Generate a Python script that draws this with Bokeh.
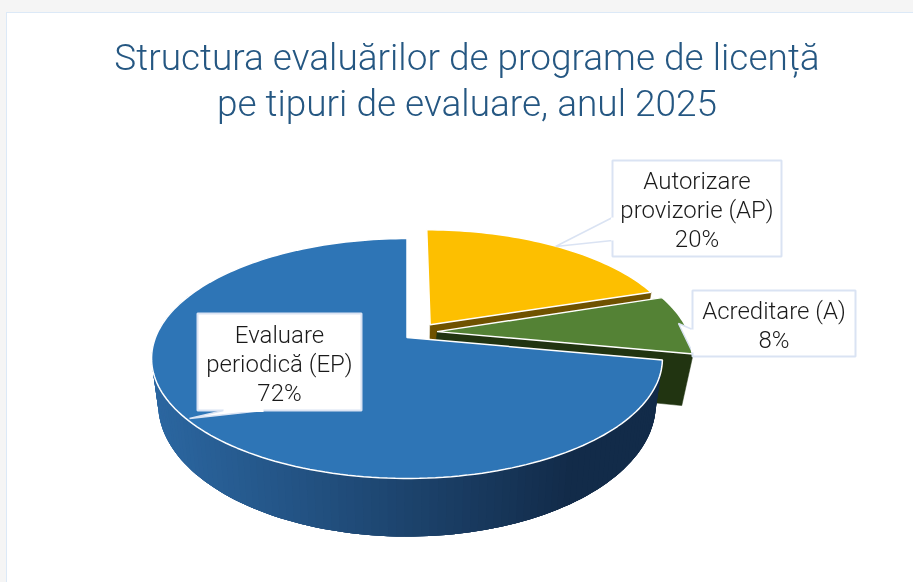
import math
from bokeh.plotting import figure
from bokeh.models import Range1d, ColumnDataSource
from bokeh.core.properties import value
from bokeh.embed import file_html
from bokeh.resources import INLINE

# ---- data (clockwise from 12 o'clock)
categories = ["Autorizare provizorie (AP)", "Acreditare (A)", "Evaluare periodică (EP)"]
label_lines = [["Autorizare", "provizorie (AP)"], ["Acreditare (A)"], ["Evaluare", "periodică (EP)"]]
shares = [20, 8, 72]
top_colors = ["#fdbf00", "#548235", "#2e75b6"]
cut_colors = ["#6f5200", "#213411", None]
title_lines = ["Structura evaluărilor de programe de licență", "pe tipuri de evaluare, anul 2025"]

# ---- layout
FONT = "Roboto Light"
AX, AY = 406.5, 337.0
K, A_TOP, B_TOP = 0.175, 116.3, 251.5
A_BOT, B_BOT, DEPTH = 128.6, 245.0, 43.2
EXPLODE = [0.16, 0.12, 0.0]
NUDGE_Y = [2.0, -5.0, 0.0]
CUT_SHIFT = [(0.0, 0.0), (-4.0, 6.0), (0.0, 0.0)]
boxes = [(612, 160, 781, 256), (692, 290, 855, 356), (197, 313, 361, 410)]
pointers = [
    [(612, 217), (555, 246), (612, 240)],
    [(692, 329), (678, 323), (692, 352)],
    [(223, 410), (189, 418), (263, 410)],
]
label_y = [180, 310, 334]
LINE = 29


def project(u, v, bottom=False, ny=0.0):
    s = 1.0 / (1.0 - K * v)
    if bottom:
        return AX + B_BOT * u * s, AY + DEPTH + A_BOT * v * s + ny
    return AX + B_TOP * u * s, AY + A_TOP * v * s + ny


def circ(t):
    a = math.radians(t)
    return math.sin(a), -math.cos(a)


def lerp(c1, c2, t):
    t = max(0.0, min(1.0, t))
    return "#%02x%02x%02x" % tuple(round(a + (b - a) * t) for a, b in zip(c1, c2))


p = figure(width=897, height=566, x_range=Range1d(0, 897), y_range=Range1d(566, 0),
           toolbar_location=None, output_backend="svg", min_border=0,
           border_fill_color=None, background_fill_color=None, outline_line_color=None)
p.xaxis.visible = False
p.yaxis.visible = False
p.grid.visible = False

spans = []
t0 = 0.0
for v in shares:
    t1 = t0 + v * 3.6
    spans.append((t0, t1))
    t0 = t1

for i, (t0, t1) in enumerate(spans):
    mid = (t0 + t1) / 2
    mu, mv = circ(mid)
    ox, oy = mu * EXPLODE[i], mv * EXPLODE[i]
    ny = NUDGE_Y[i]
    if cut_colors[i]:
        ou, ov = circ(t1)
        sx, sy = CUT_SHIFT[i]
        b1 = project(ou + ox, ov + oy, True, ny)
        b2 = project(ox, oy, True, ny)
        pts = [project(ox, oy, False, ny), project(ou + ox, ov + oy, False, ny),
               (b1[0] + sx, b1[1] + sy), (b2[0] + sx, b2[1] + sy)]
        p.patch([q[0] for q in pts], [q[1] for q in pts], fill_color=cut_colors[i],
                line_color=cut_colors[i], line_width=0.5)
    else:
        # outer wall of the big slice, shaded left to right; strips overlap to avoid seams
        n = 120
        a_end = min(t1, 292.0)
        step = (a_end - t0) / n
        for j in range(n):
            angs = [min(t0 + step * (j + q), a_end) for q in range(5)]
            upper = [project(*circ(a)) for a in angs]
            lower = [project(*circ(a), True) for a in reversed(angs)]
            pts = upper + lower
            xm = sum(q[0] for q in pts) / len(pts)
            c = lerp((0x2b, 0x66, 0xa0), (0x12, 0x2b, 0x49), (xm - 155) / (560 - 155))
            p.patch([q[0] for q in pts], [q[1] for q in pts], fill_color=c, line_color=None)
    steps = max(8, int((t1 - t0) / 1.5))
    xs, ys = [], []
    ax0, ay0 = project(ox, oy, False, ny)
    xs.append(ax0)
    ys.append(ay0)
    for j in range(steps + 1):
        u, w = circ(t0 + (t1 - t0) * j / steps)
        x, y = project(u + ox, w + oy, False, ny)
        xs.append(x)
        ys.append(y)
    p.patch(xs, ys, fill_color=top_colors[i], line_color="#ffffff", line_width=1.5)

# callouts
for box, ptr in zip(boxes, pointers):
    l, t, r, b = box
    p.quad(left=l, right=r, top=t, bottom=b, fill_color="#ffffff", line_color="#dae3f3", line_width=2)
    p.patch([q[0] for q in ptr], [q[1] for q in ptr], fill_color="#ffffff",
            line_color="#dae3f3", line_width=1.5)
    # hide the box border where the pointer joins it
    p.line([ptr[0][0], ptr[2][0]], [ptr[0][1], ptr[2][1]], line_color="#ffffff", line_width=3)

tx, ty, tt = [], [], []
for i in range(3):
    l, t, r, b = boxes[i]
    rows = label_lines[i] + [f"{shares[i]}%"]
    for k, s in enumerate(rows):
        tx.append((l + r) / 2)
        ty.append(label_y[i] + k * LINE)
        tt.append(s)
p.text(x="x", y="y", text="t", source=ColumnDataSource(dict(x=tx, y=ty, t=tt)),
       text_align="center", text_baseline="middle", text_font=value(FONT),
       text_font_size="24px", text_color="#1a1a1a")

p.text(x="x", y="y", text="t",
       source=ColumnDataSource(dict(x=[466.5, 466.5], y=[57, 103], t=title_lines)),
       text_align="center", text_baseline="middle", text_font=value(FONT),
       text_font_size="37px", text_color="#255782")

html = file_html(p, INLINE)
css = ("<style>html{background:#f5f5f5}"
       "body::before{content:'';position:fixed;left:6px;top:12px;right:-5px;bottom:-5px;"
       "background:#fff;border:1px solid #dce9f7;z-index:-1}</style>")
html = html.replace("</head>", css + "</head>", 1)
open("out.html", "w").write(html)
